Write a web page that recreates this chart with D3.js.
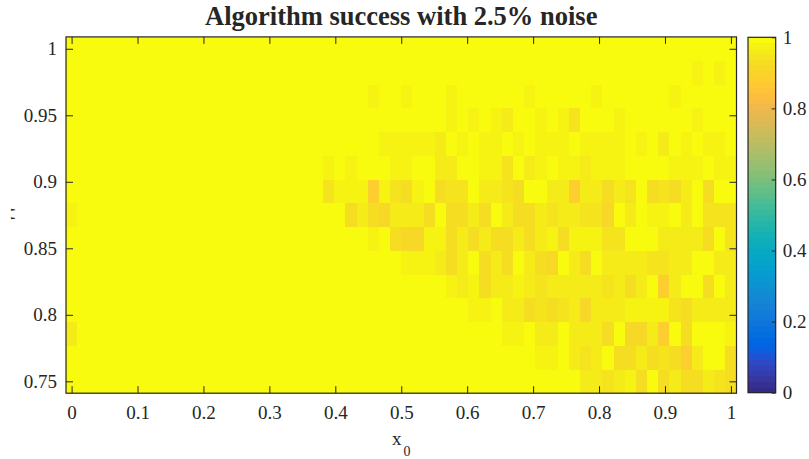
<!DOCTYPE html>
<html>
<head>
<meta charset="utf-8">
<script src="https://cdn.jsdelivr.net/npm/d3@7/dist/d3.min.js"></script>
<style>
  html, body { margin: 0; padding: 0; background: #ffffff; }
  svg text { font-family: "Liberation Serif", "Times New Roman", Times, serif; fill: #262626; }
</style>
</head>
<body>
<svg id="chart" width="809" height="459"></svg>
<script>
// ---- data -------------------------------------------------------------
const chartTitle = "Algorithm success with 2.5% noise";
const xTickValues = [0, 0.1, 0.2, 0.3, 0.4, 0.5, 0.6, 0.7, 0.8, 0.9, 1];
const yTickValues = [0.75, 0.8, 0.85, 0.9, 0.95, 1];
const colorTickValues = [0, 0.2, 0.4, 0.6, 0.8, 1];

// grid: 60 starting points x0 in [0,1], 15 levels on the y axis in [0.75,1]
const nX = 60, nY = 15;
const xGrid = d3.range(nX).map(i => i / (nX - 1));
const yGrid = d3.range(nY).map(j => 0.75 + j * 0.25 / (nY - 1));

// success rate, one array per y level (bottom row first), 60 columns each
const success_y00 = [1,1,1,1,1,1,1,1,1,1,1,1,1,1,1,1,1,1,1,1,1,1,1,1,1,1,1,1,1,1,1,1,1,1,1,1,1,1,1,1,1,1,1,1,1,1,.96,.96,.945,.96,.975,.925,1,.925,.96,.925,.925,.96,.945,.925];
const success_y01 = [1,1,1,1,1,1,1,1,1,1,1,1,1,1,1,1,1,1,1,1,1,1,1,1,1,1,1,1,1,1,1,1,1,1,1,1,1,1,1,1,1,1,.975,.975,1,.96,.945,.96,1,.925,.925,.96,.925,.945,.925,.885,.96,1,1,.925];
const success_y02 = [.96,1,1,1,1,1,1,1,1,1,1,1,1,1,1,1,1,1,1,1,1,1,1,1,1,1,1,1,1,1,1,1,1,1,1,1,1,1,1,.975,.975,1,.96,.96,1,.96,.96,.96,.925,1,.91,.91,.96,.885,1,.925,1,1,1,.975];
const success_y03 = [1,1,1,1,1,1,1,1,1,1,1,1,1,1,1,1,1,1,1,1,1,1,1,1,1,1,1,1,1,1,1,1,1,1,1,1,.975,.975,1,.96,.96,.925,.945,.925,.945,.96,.91,.96,.96,.96,.975,.975,.975,.975,.945,.925,.96,.96,.96,.96];
const success_y04 = [1,1,1,1,1,1,1,1,1,1,1,1,1,1,1,1,1,1,1,1,1,1,1,1,1,1,1,1,1,1,1,1,1,1,.975,.96,.975,.925,.96,.96,.975,.96,.945,.96,.96,.96,.96,.96,.945,.96,.925,.96,1,.885,.96,1,1,.925,1,.96];
const success_y05 = [1,1,1,1,1,1,1,1,1,1,1,1,1,1,1,1,1,1,1,1,1,1,1,1,1,1,1,1,1,1,.975,.975,.975,.96,.925,.96,1,.925,.96,.925,1,.96,.925,.91,1,.96,.925,1,.96,.96,.96,.96,.945,.945,.96,.96,1,1,.96,.96];
const success_y06 = [1,1,1,1,1,1,1,1,1,1,1,1,1,1,1,1,1,1,1,1,1,1,1,1,1,1,1,.975,1,.925,.91,.91,.975,.975,.925,.96,.925,.96,.925,.925,.96,.925,.96,.975,.925,.975,.975,.975,.945,.945,1,1,1,.96,.96,.96,.96,.925,1,.945];
const success_y07 = [.975,1,1,1,1,1,1,1,1,1,1,1,1,1,1,1,1,1,1,1,1,1,1,1,1,.925,.96,.925,.91,.96,.96,.96,.925,1,.925,.925,.96,.925,1,.96,.925,.925,.96,.945,.96,.96,.945,.945,.91,1,.96,1,.975,.975,1,.96,1,.945,.945,.945];
const success_y08 = [1,1,1,1,1,1,1,1,1,1,1,1,1,1,1,1,1,1,1,1,1,1,1,.945,.975,.975,.975,.885,.975,.945,.925,.975,1,.925,.945,.945,1,.96,.96,.945,.925,1,1,.96,.96,.885,.96,.96,.925,.96,.945,1,.925,.945,.925,.96,1,.925,1,1];
const success_y09 = [1,1,1,1,1,1,1,1,1,1,1,1,1,1,1,1,1,1,1,1,1,1,1,.975,1,.975,1,1,1,.975,.975,1,1,.96,.96,1,1,.975,.975,.945,1,.96,.975,1,.975,.975,.96,.975,.975,.975,1,1,1,1,.975,.975,.975,1,.975,.975];
const success_y10 = [1,1,1,1,1,1,1,1,1,1,1,1,1,1,1,1,1,1,1,1,1,1,1,1,1,1,1,1,.975,.975,.975,.975,.975,.96,1,.975,1,.975,.975,1,.975,1,.975,.975,.975,1,.975,.975,.975,.975,1,.975,1,.96,1,.975,1,.975,.975,1];
const success_y11 = [1,1,1,1,1,1,1,1,1,1,1,1,1,1,1,1,1,1,1,1,1,1,1,1,1,1,1,1,1,1,1,1,1,1,.975,1,.975,1,.975,.96,1,1,.975,1,.975,.945,1,1,1,.975,1,1,1,1,1,1,.975,1,1,1];
const success_y12 = [1,1,1,1,1,1,1,1,1,1,1,1,1,1,1,1,1,1,1,1,1,1,1,1,1,1,1,.975,1,1,.975,1,1,1,.975,1,1,1,1,1,1,.975,1,1,1,1,1,.975,1,1,1,1,1,1,.975,1,1,1,1,1];
const success_y13 = [1,1,1,1,1,1,1,1,1,1,1,1,1,1,1,1,1,1,1,1,1,1,1,1,1,1,1,1,1,1,1,1,1,1,1,1,1,1,1,1,1,1,1,1,1,1,1,1,1,1,1,1,1,1,1,1,.975,1,.975,1];
const success_y14 = [1,1,1,1,1,1,1,1,1,1,1,1,1,1,1,1,1,1,1,1,1,1,1,1,1,1,1,1,1,1,1,1,1,1,1,1,1,1,1,1,1,1,1,1,1,1,1,1,1,1,1,1,1,1,1,1,1,1,1,1];

const successRows = [success_y00, success_y01, success_y02, success_y03, success_y04,
  success_y05, success_y06, success_y07, success_y08, success_y09, success_y10,
  success_y11, success_y12, success_y13, success_y14];

// 64-entry parula colormap
const parula = [
 [0.2081,0.1663,0.5292],[0.2116,0.1898,0.5777],[0.2123,0.2138,0.6270],[0.2081,0.2386,0.6771],
 [0.1959,0.2645,0.7279],[0.1707,0.2919,0.7792],[0.1253,0.3242,0.8303],[0.0591,0.3598,0.8683],
 [0.0117,0.3875,0.8820],[0.0060,0.4086,0.8828],[0.0165,0.4266,0.8786],[0.0329,0.4430,0.8720],
 [0.0498,0.4586,0.8641],[0.0629,0.4737,0.8554],[0.0723,0.4887,0.8467],[0.0779,0.5040,0.8384],
 [0.0793,0.5200,0.8312],[0.0749,0.5375,0.8263],[0.0641,0.5570,0.8240],[0.0488,0.5772,0.8228],
 [0.0343,0.5966,0.8199],[0.0265,0.6137,0.8135],[0.0239,0.6287,0.8038],[0.0231,0.6418,0.7913],
 [0.0228,0.6535,0.7768],[0.0267,0.6642,0.7607],[0.0384,0.6743,0.7436],[0.0590,0.6838,0.7254],
 [0.0843,0.6928,0.7062],[0.1133,0.7015,0.6859],[0.1453,0.7098,0.6646],[0.1801,0.7177,0.6424],
 [0.2178,0.7250,0.6193],[0.2586,0.7317,0.5954],[0.3022,0.7376,0.5712],[0.3482,0.7424,0.5473],
 [0.3953,0.7459,0.5244],[0.4420,0.7481,0.5033],[0.4871,0.7491,0.4840],[0.5300,0.7491,0.4661],
 [0.5709,0.7485,0.4494],[0.6099,0.7473,0.4337],[0.6473,0.7456,0.4188],[0.6834,0.7435,0.4044],
 [0.7184,0.7411,0.3905],[0.7525,0.7384,0.3768],[0.7858,0.7356,0.3633],[0.8185,0.7327,0.3498],
 [0.8507,0.7299,0.3360],[0.8824,0.7274,0.3217],[0.9139,0.7258,0.3063],[0.9450,0.7261,0.2886],
 [0.9739,0.7314,0.2666],[0.9938,0.7455,0.2403],[0.9990,0.7653,0.2164],[0.9955,0.7861,0.1967],
 [0.9880,0.8066,0.1794],[0.9789,0.8271,0.1633],[0.9697,0.8481,0.1475],[0.9626,0.8705,0.1309],
 [0.9589,0.8949,0.1132],[0.9598,0.9218,0.0948],[0.9661,0.9514,0.0755],[0.9763,0.9831,0.0538]
].map(c => d3.rgb(c[0] * 255, c[1] * 255, c[2] * 255).formatHex());

// ---- layout -----------------------------------------------------------
const svg = d3.select("#chart");
const plot = { left: 66, right: 736.5, top: 36.9, bottom: 393.2 };
const cbar = { left: 748, right: 775.7, top: 37.3, bottom: 392.7 };
const axisColor = "#262626";
const tickFont = 19;

const dx = 1 / (nX - 1);
const dy = 0.25 / (nY - 1);

const x = d3.scaleLinear().domain([-dx / 2, 1 + dx / 2]).range([plot.left, plot.right]);
const y = d3.scaleLinear().domain([0.75 - dy / 2, 1 + dy / 2]).range([plot.bottom, plot.top]);
const color = d3.scaleQuantize().domain([0, 1]).range(parula);

// ---- heatmap cells ----------------------------------------------------
const cells = [];
successRows.forEach((row, j) => row.forEach((v, i) => cells.push({ xv: xGrid[i], yv: yGrid[j], v })));

svg.append("g")
  .attr("shape-rendering", "crispEdges")
  .selectAll("rect")
  .data(cells)
  .join("rect")
  .attr("x", d => x(d.xv - dx / 2))
  .attr("y", d => y(d.yv + dy / 2))
  .attr("width", d => x(d.xv + dx / 2) - x(d.xv - dx / 2) + 0.3)
  .attr("height", d => y(d.yv - dy / 2) - y(d.yv + dy / 2) + 0.3)
  .attr("fill", d => color(d.v));

// ---- axes (ticks point inward on all four sides) -----------------------
function styleAxis(g) {
  g.select(".domain").remove();
  g.selectAll(".tick line").attr("stroke", axisColor).attr("stroke-width", 1);
  g.selectAll(".tick text")
    .attr("font-size", tickFont)
    .attr("fill", axisColor)
    .style("font-family", '"Liberation Serif", "Times New Roman", serif');
}

svg.append("g")
  .attr("transform", `translate(0,${plot.bottom})`)
  .call(d3.axisBottom(x).tickValues(xTickValues).tickFormat(d3.format("")).tickSizeInner(-7).tickSizeOuter(0).tickPadding(12))
  .call(styleAxis);

svg.append("g")
  .attr("transform", `translate(0,${plot.top})`)
  .call(d3.axisTop(x).tickValues(xTickValues).tickFormat("").tickSizeInner(-7).tickSizeOuter(0))
  .call(styleAxis);

svg.append("g")
  .attr("transform", `translate(${plot.left},0)`)
  .call(d3.axisLeft(y).tickValues(yTickValues).tickFormat(d3.format("")).tickSizeInner(-7).tickSizeOuter(0).tickPadding(9))
  .call(styleAxis);

svg.append("g")
  .attr("transform", `translate(${plot.right},0)`)
  .call(d3.axisRight(y).tickValues(yTickValues).tickFormat("").tickSizeInner(-7).tickSizeOuter(0))
  .call(styleAxis);

svg.append("rect")
  .attr("x", plot.left).attr("y", plot.top)
  .attr("width", plot.right - plot.left).attr("height", plot.bottom - plot.top)
  .attr("fill", "none").attr("stroke", axisColor).attr("stroke-width", 1.2);

// ---- labels -----------------------------------------------------------
svg.append("text")
  .attr("x", (plot.left + plot.right) / 2)
  .attr("y", 25)
  .attr("text-anchor", "middle")
  .attr("font-size", 26.5)
  .attr("font-weight", "bold")
  .attr("fill", "#000")
  .text(chartTitle);

const xLabel = svg.append("text").attr("font-size", tickFont).attr("fill", axisColor);
xLabel.append("tspan").attr("x", 392).attr("y", 445).text("x");
xLabel.append("tspan").attr("x", 403.5).attr("y", 456).attr("font-size", 14).text("0");

svg.append("text")
  .attr("transform", `translate(22,214) rotate(-90)`)
  .attr("text-anchor", "middle")
  .attr("font-size", 16)
  .attr("font-weight", "bold")
  .attr("fill", axisColor)
  .text("' '");

// ---- colorbar ---------------------------------------------------------
const cy = d3.scaleLinear().domain([0, 1]).range([cbar.bottom, cbar.top]);
svg.append("g")
  .attr("shape-rendering", "crispEdges")
  .selectAll("rect")
  .data(parula)
  .join("rect")
  .attr("x", cbar.left)
  .attr("width", cbar.right - cbar.left)
  .attr("y", (c, k) => cy((k + 1) / parula.length))
  .attr("height", (c, k) => cy(k / parula.length) - cy((k + 1) / parula.length) + 0.4)
  .attr("fill", c => c);

svg.append("g")
  .attr("transform", `translate(${cbar.right},0)`)
  .call(d3.axisRight(cy).tickValues(colorTickValues).tickFormat(d3.format("")).tickSizeInner(-4).tickSizeOuter(0).tickPadding(7))
  .call(styleAxis);

svg.append("rect")
  .attr("x", cbar.left).attr("y", cbar.top)
  .attr("width", cbar.right - cbar.left).attr("height", cbar.bottom - cbar.top)
  .attr("fill", "none").attr("stroke", axisColor).attr("stroke-width", 1.2);
</script>
</body>
</html>
